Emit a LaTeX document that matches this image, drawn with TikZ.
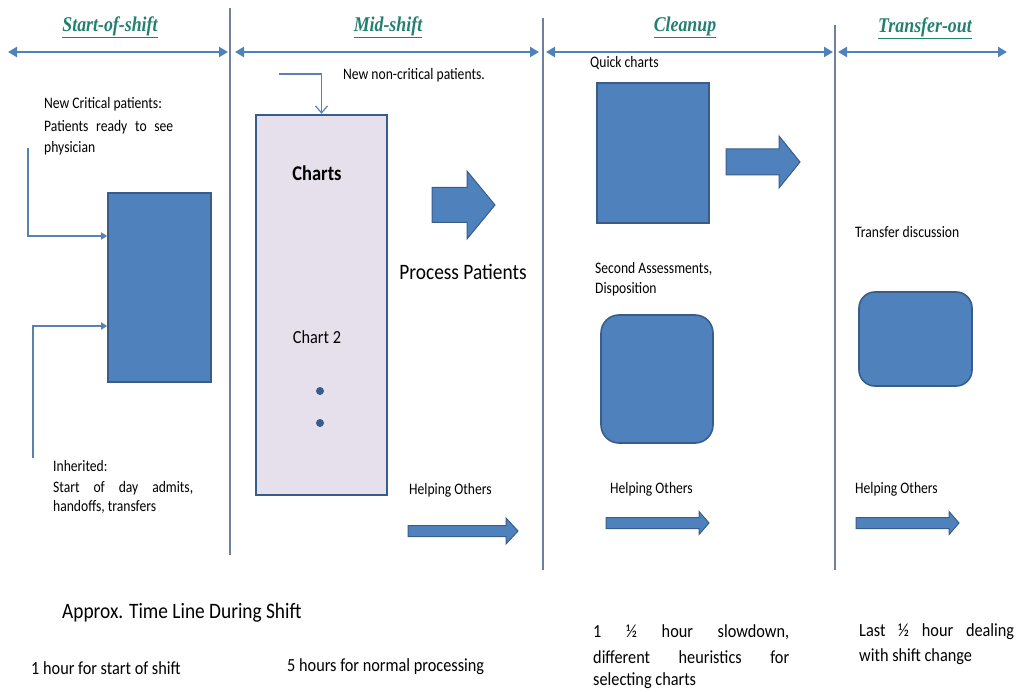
\documentclass[tikz,border=0pt]{standalone}
\usepackage{fontspec}
\setmainfont{Carlito}
\newfontfamily\bodyf{Carlito}[FakeStretch=0.85]
\newfontfamily\bigf{Carlito}[FakeStretch=0.88]
\newfontfamily\headf{Liberation Serif}[FakeStretch=0.85]
\usetikzlibrary{arrows.meta}
\definecolor{fillblue}{RGB}{79,129,189}
\definecolor{edgeblue}{RGB}{56,93,138}
\definecolor{linecol}{RGB}{110,128,155}
\definecolor{headcol}{RGB}{35,128,112}
\definecolor{lav}{RGB}{230,224,236}
\newcommand\blockarrow[6]{%
  \filldraw[fill=fillblue,draw=edgeblue,line width=1pt]
    (#1,#4-#5) -- (#3,#4-#5) -- (#3,#4-#6) -- (#2,#4) -- (#3,#4+#6) -- (#3,#4+#5) -- (#1,#4+#5) -- cycle;}
\tikzset{
  divider/.style={draw=linecol,line width=1.6pt},
  span/.style={draw=fillblue,line width=2.6pt,{Triangle[length=9pt,width=10pt]}-{Triangle[length=9pt,width=10pt]}},
  heading/.style={font=\headf\bfseries\itshape\fontsize{21}{24}\selectfont,text=headcol,inner sep=0},
  lbl/.style={font=\bodyf\fontsize{16}{19}\selectfont,anchor=west,inner sep=0},
  bigl/.style={font=\bigf\fontsize{22}{26}\selectfont,inner sep=0},
  botl/.style={font=\bigf\fontsize{18.5}{22}\selectfont,anchor=west,inner sep=0},
  bluebox/.style={fill=fillblue,draw=edgeblue,line width=1.6pt,inner sep=0},
  conn/.style={draw=fillblue!80!gray,line width=1.4pt,-{Triangle[length=6pt,width=7pt]}},
  feed/.style={draw=fillblue!80!gray,line width=1.2pt,-{Straight Barb[length=7pt,width=12pt]}}
}
\begin{document}
\begin{tikzpicture}[x=1pt,y=-1pt]
\useasboundingbox (0,0) rectangle (1019,692);
% dividers
\draw[divider] (230,8) -- (230,555);
\draw[divider] (543,18) -- (543,570);
\draw[divider] (835,25) -- (835,570);
% spans
\coordinate (s1a) at (8,52); \coordinate (s1b) at (228,52);
\coordinate (s2a) at (235,52); \coordinate (s2b) at (539,52);
\coordinate (s3a) at (546,52); \coordinate (s3b) at (833,52);
\coordinate (s4a) at (838,52); \coordinate (s4b) at (1007,52);
\draw[span] (s1a) -- (s1b);
\draw[span] (s2a) -- (s2b);
\draw[span] (s3a) -- (s3b);
\draw[span] (s4a) -- (s4b);
% headings
\node[heading] (h1) at (110,27) {\underline{Start-of-shift}};
\node[heading] (h2) at (388,27) {\underline{Mid-shift}};
\node[heading] (h3) at (685,27) {\underline{Cleanup}};
\node[heading] (h4) at (925,28) {\underline{Transfer-out}};
% start of shift
\node[lbl] (t1a) at (44,104) {New Critical patients:};
\node[lbl] (t1b) at (44,127) {\hbox to 129pt{Patients\hfill ready\hfill to\hfill see}};
\node[lbl] (t1c) at (44,148) {physician};
\node[bluebox,minimum width=103,minimum height=189] (sbox) at (159.5,287.5) {};
\coordinate (c1) at (28,148); \coordinate (r1) at (0,236);
\coordinate (c2) at (33,458); \coordinate (r2) at (0,326);
\draw[conn] (c1) |- (sbox.west |- r1);
\draw[conn] (c2) |- (sbox.west |- r2);
\node[lbl] (t2a) at (53,466) {Inherited:};
\node[lbl] (t2b) at (53,488) {\hbox to 140pt{Start\hfill of\hfill day\hfill admits,}};
\node[lbl] (t2c) at (53,507) {handoffs, transfers};
% mid shift
\node[fill=lav,draw=edgeblue,line width=2.4pt,minimum width=131,minimum height=380,inner sep=0] (charts) at (321.5,305) {};
\coordinate (c3) at (279,74);
\draw[feed] (c3) -| (charts.north);
\node[lbl] (t3) at (343,75) {New non-critical patients.};
\node[font=\bigf\bfseries\fontsize{21}{25}\selectfont,inner sep=0] (chtitle) at (317,173) {Charts};
\node[font=\bigf\fontsize{18.5}{22}\selectfont,inner sep=0] (ch2) at (317,337) {Chart 2};
\fill[edgeblue] (320,391) circle (4);
\fill[edgeblue] (320,423) circle (4);
\blockarrow{432}{495}{467}{205}{17.5}{34}
\node[bigl] (pp) at (463,272) {Process Patients};
\node[lbl] (ho1) at (409,490) {Helping Others};
\blockarrow{408}{518}{506}{531}{5.5}{13}
% cleanup
\node[lbl] (qc) at (590,63) {Quick charts};
\node[bluebox,minimum width=112,minimum height=140] (qbox) at (653,153) {};
\blockarrow{726}{800}{779}{162}{13}{26}
\node[lbl] (sa1) at (595,269) {Second Assessments,};
\node[lbl] (sa2) at (595,289) {Disposition};
\node[bluebox,rounded corners=18pt,minimum width=112,minimum height=128] (sabox) at (657,379) {};
\node[lbl] (ho2) at (610,489) {Helping Others};
\blockarrow{606}{709}{699}{523}{5.5}{11.5}
% transfer
\node[lbl] (td) at (855,232) {Transfer discussion};
\node[bluebox,rounded corners=16pt,minimum width=113,minimum height=94] (tbox) at (915.5,339) {};
\node[lbl] (ho3) at (855,489) {Helping Others};
\blockarrow{856}{959}{949}{523}{5.5}{11.5}
% bottom
\node[bigl,anchor=west] (tl) at (62,613) {Approx. Time Line During Shift};
\node[botl] (b1) at (31,668) {1 hour for start of shift};
\node[botl] (b2) at (287,667) {5 hours for normal processing};
\node[botl] (b3a) at (593,632) {\hbox to 196pt{1\hfill ½\hfill hour\hfill slowdown,}};
\node[botl] (b3b) at (593,657) {\hbox to 196pt{different\hfill heuristics\hfill for}};
\node[botl] (b3c) at (593,681) {selecting charts};
\node[botl] (b4a) at (859,632) {\hbox to 155pt{Last\hfill ½\hfill hour\hfill dealing}};
\node[botl] (b4b) at (859,657) {with shift change};
\end{tikzpicture}
\end{document}
